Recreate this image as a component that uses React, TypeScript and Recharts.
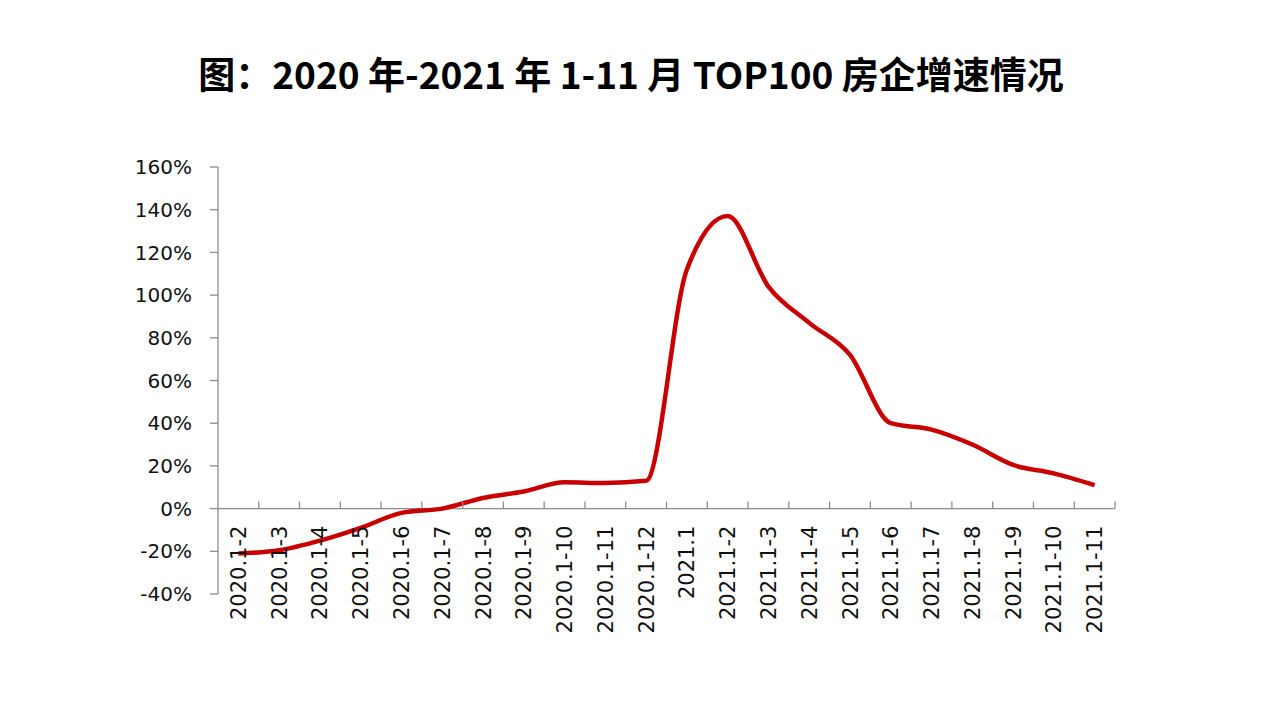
import { LineChart, Line, XAxis, YAxis, ReferenceLine } from 'recharts';

// 2020年-2021年 1-11月 TOP100 房企增速
const months = [
  '2020.1-2', '2020.1-3', '2020.1-4', '2020.1-5', '2020.1-6', '2020.1-7',
  '2020.1-8', '2020.1-9', '2020.1-10', '2020.1-11', '2020.1-12',
  '2021.1', '2021.1-2', '2021.1-3', '2021.1-4', '2021.1-5', '2021.1-6',
  '2021.1-7', '2021.1-8', '2021.1-9', '2021.1-10', '2021.1-11',
];
const growth = [
  -21, -19.5, -15, -9, -2, 0, 5, 8, 12.3, 12, 13,
  112, 137, 104, 87, 72, 40, 37, 30, 20.5, 16.5, 11,
];
const yTicks = [-40, -20, 0, 20, 40, 60, 80, 100, 120, 140, 160];

const data = months.map((m, i) => ({ month: m, value: growth[i] }));

const W = 1252;
const H = 680;
const MARGIN = { top: 159, right: 145, bottom: 93, left: 130 };
const Y_AXIS_W = 80;
const X_AXIS_H = 1;
const PLOT_H = H - MARGIN.top - MARGIN.bottom - X_AXIS_H;
const PLOT_W = W - MARGIN.left - MARGIN.right - Y_AXIS_W;
const Y_MIN = yTicks[0];
const Y_MAX = yTicks[yTicks.length - 1];
const ZERO_Y = MARGIN.top + (PLOT_H * Y_MAX) / (Y_MAX - Y_MIN);
const BAND = PLOT_W / months.length;

const AXIS_COLOR = '#8c8c8c';
const FONT = '"DejaVu Sans", Verdana, sans-serif';

// category labels hang just under the zero line, reading bottom to top
const MonthTick = ({ x, payload }: any) => (
  <g>
    <line x1={x + BAND / 2} x2={x + BAND / 2} y1={ZERO_Y} y2={ZERO_Y - 7} stroke={AXIS_COLOR} strokeWidth={1.3} />
    <text
      transform={`translate(${x},${ZERO_Y + 17}) rotate(-90)`}
      textAnchor="end"
      dy="0.36em"
      fontSize={21}
      fontFamily={FONT}
      fill="#111"
    >
      {payload.value}
    </text>
  </g>
);

export default function App() {
  return (
    <div style={{ position: 'relative', width: W, height: 706, background: '#fff' }}>
      <div
        style={{
          position: 'absolute',
          top: 47,
          left: -3,
          width: W,
          textAlign: 'center',
          fontFamily: '"Noto Sans CJK SC", sans-serif',
          fontWeight: 700,
          fontSize: 37,
          lineHeight: 1,
          color: '#000',
        }}
      >
        图：2020 年-2021 年 1-11 月 TOP100 房企增速情况
      </div>
      <LineChart width={W} height={H} data={data} margin={MARGIN}>
        <XAxis
          dataKey="month"
          height={X_AXIS_H}
          interval={0}
          padding={{ left: BAND / 2, right: BAND / 2 }}
          axisLine={false}
          tickLine={false}
          tick={<MonthTick />}
        />
        <YAxis
          width={Y_AXIS_W}
          domain={[Y_MIN, Y_MAX]}
          ticks={yTicks}
          interval={0}
          tickFormatter={(v) => `${v}%`}
          axisLine={{ stroke: AXIS_COLOR, strokeWidth: 1.3 }}
          tickLine={{ stroke: AXIS_COLOR, strokeWidth: 1.3 }}
          tickSize={8}
          tickMargin={18}
          tick={{ fontSize: 20, fontFamily: FONT, fill: '#111' }}
        />
        <ReferenceLine y={0} stroke={AXIS_COLOR} strokeWidth={1.3} />
        <Line
          type="monotone"
          dataKey="value"
          stroke="#c80000"
          strokeWidth={4.5}
          dot={false}
          isAnimationActive={false}
        />
      </LineChart>
    </div>
  );
}
